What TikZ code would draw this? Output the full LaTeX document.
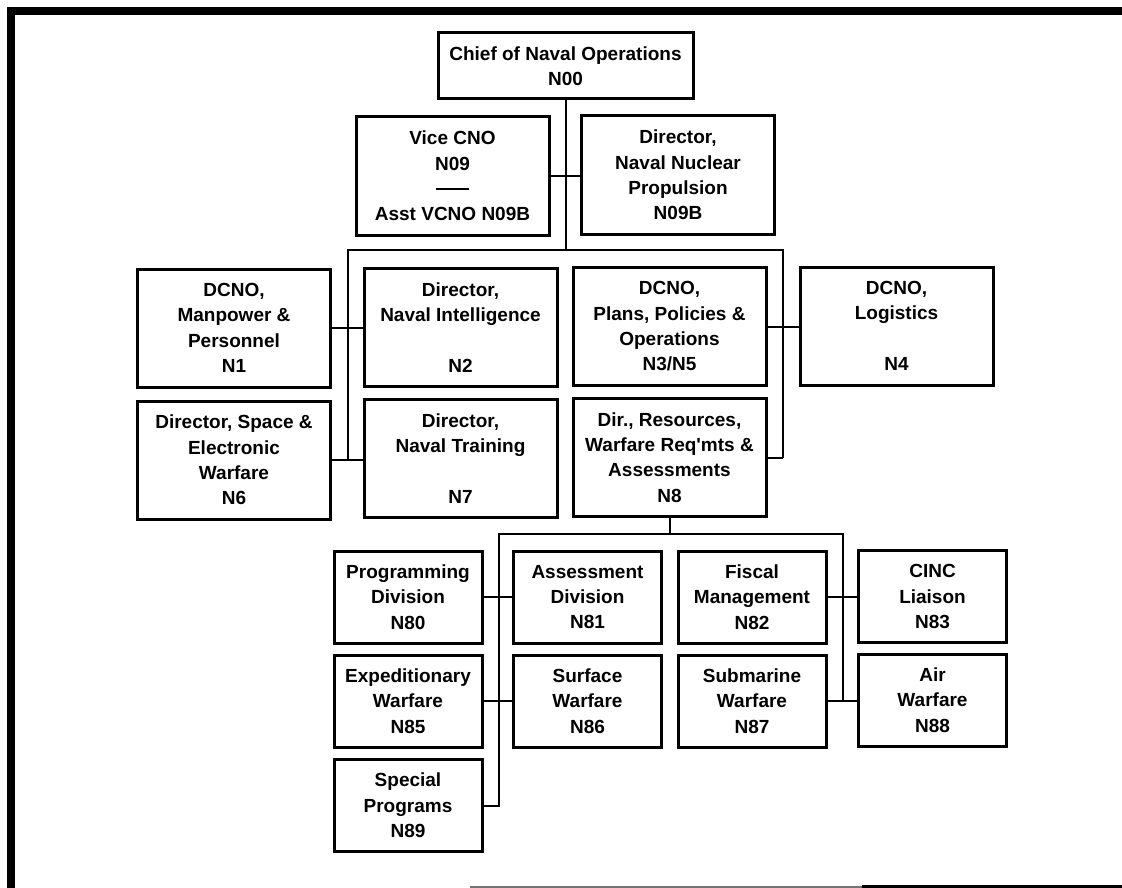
\documentclass[tikz,border=0pt]{standalone}
\usepackage{fontspec}
\setmainfont{Liberation Sans}
\newcommand{\straightquote}{\XeTeXglyph\XeTeXglyphindex "quotesingle"\relax}
\begin{document}
\begin{tikzpicture}[x=1pt,y=-1pt,
  box/.style={draw, line width=3pt, align=center, inner sep=0pt,
    font=\fontsize{19}{25.3}\selectfont\bfseries},
  big/.style={box, minimum width=193pt, minimum height=118pt},
  small/.style={box, minimum width=148pt, minimum height=92pt},
  link/.style={line width=2pt, line join=miter},
  frameline/.style={line width=8pt, line join=miter}]
\useasboundingbox (0,0) rectangle (1122,888);

% frame
\draw[frameline] (11,888) -- (11,11) -- (1122,11);
\draw[line width=2pt, black!55] (470,886.5) -- (862,886.5);
\draw[line width=2.5pt] (862,886.5) -- (1122,886.5);

% top level
\node[box, minimum width=255pt, minimum height=66pt] (cno) at (565.5,66) {Chief of Naval Operations\\N00};
\node[big] (vcno) at (452.5,176) {Vice CNO\\N09\\\rule[5.5pt]{33pt}{2.4pt}\\Asst VCNO N09B};
\node[big] (nnp) at (678,175) {Director,\\Naval Nuclear\\Propulsion\\N09B};

% second level
\node[big] (n1) at (234,328) {DCNO,\\Manpower \&\\Personnel\\N1};
\node[big] (n2) at (460.5,327.5) {Director,\\Naval Intelligence\\\mbox{}\\N2};
\node[big] (n35) at (669.5,326.5) {DCNO,\\Plans, Policies \&\\Operations\\N3/N5};
\node[big] (n4) at (896.5,326) {DCNO,\\Logistics\\\mbox{}\\N4};
\node[big] (n6) at (234,460) {Director, Space \&\\Electronic\\Warfare\\N6};
\node[big] (n7) at (460.5,458.5) {Director,\\Naval Training\\\mbox{}\\N7};
\node[big] (n8) at (669.5,457.5) {Dir., Resources,\\Warfare Req\straightquote mts \&\\Assessments\\N8};

% N8 divisions
\node[small] (n80) at (408,597) {Programming\\Division\\N80};
\node[small] (n81) at (587.5,597) {Assessment\\Division\\N81};
\node[small] (n82) at (752,597) {Fiscal\\Management\\N82};
\node[small] (n83) at (932.5,596.5) {CINC\\Liaison\\N83};
\node[small] (n85) at (408,701) {Expeditionary\\Warfare\\N85};
\node[small] (n86) at (587.5,701) {Surface\\Warfare\\N86};
\node[small] (n87) at (752,701) {Submarine\\Warfare\\N87};
\node[small] (n88) at (932.5,700) {Air\\Warfare\\N88};
\node[small] (n89) at (408,805.5) {Special\\Programs\\N89};

% connectors, upper part
\coordinate (b1) at (565.5,250);
\coordinate (b1l) at (347.5,250);
\coordinate (b1r) at (783,250);
\draw[link] (cno.south) -- (b1);
\draw[link] (vcno.east) -- (vcno.east -| nnp.west);
\draw[link] (b1l |- n6.east) -- (b1l) -- (b1r) -- (b1r |- n8.east);
\draw[link] (n1.east) -- (n1.east -| n2.west);
\draw[link] (n6.east) -- (n6.east -| n7.west);
\draw[link] (n35.east) -- (n35.east -| n4.west);
\draw[link] (n8.east) -- (n8.east -| b1r);

% connectors, N8 part
\coordinate (b2) at (669.5,534);
\coordinate (b2l) at (498.5,534);
\coordinate (b2r) at (842.5,534);
\draw[link] (n8.south) -- (b2);
\draw[link] (n89.east) -- (n89.east -| b2l) -- (b2l) -- (b2r) -- (b2r |- n87.east);
\draw[link] (n80.east) -- (n80.east -| n81.west);
\draw[link] (n85.east) -- (n85.east -| n86.west);
\draw[link] (n82.east) -- (n82.east -| n83.west);
\draw[link] (n87.east) -- (n87.east -| n88.west);
\end{tikzpicture}
\end{document}
